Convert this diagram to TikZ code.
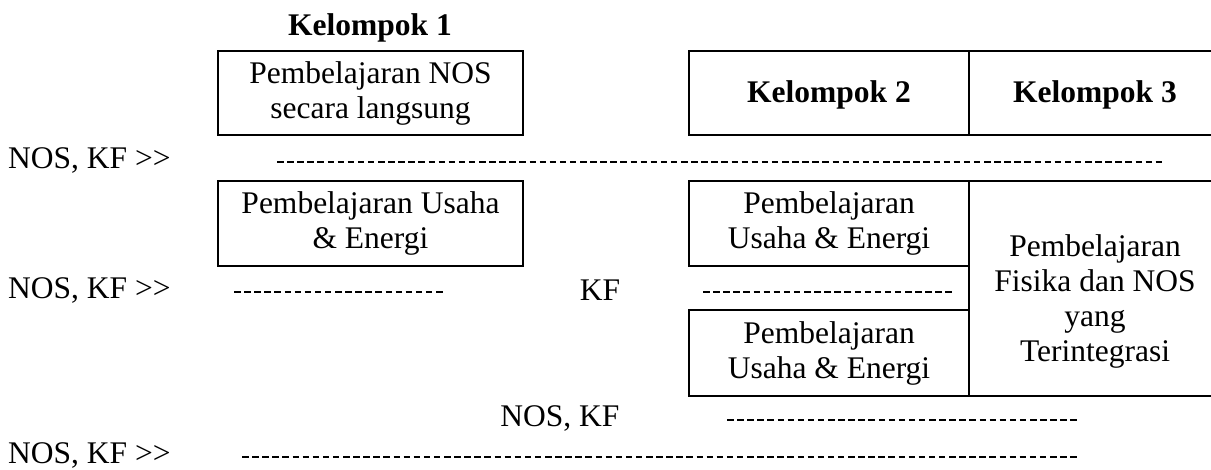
\documentclass[tikz,border=0pt]{standalone}
\usepackage{fontspec}
\setmainfont{Liberation Serif}
\begin{document}
\begin{tikzpicture}[x=1pt,y=-1pt,
  txt/.style={inner sep=0pt,align=center,font=\fontsize{31.5}{35}\selectfont},
  bold/.style={txt,font=\fontsize{31.5}{35}\selectfont\bfseries},
  boxline/.style={draw=black,line width=1.6pt},
  dline/.style={draw=black,line width=1.7pt,dash pattern=on 6.5pt off 3.6pt}]
\useasboundingbox (0,0) rectangle (1211,470);
% boxes
\node[boxline,minimum width=305pt,minimum height=84pt,inner sep=0pt] (b1) at (370.5,93) {};
\node[txt] (b1t) at (b1.center) {Pembelajaran NOS\\secara langsung};
\node[boxline,minimum width=305pt,minimum height=85pt,inner sep=0pt] (b2) at (370.5,223.5) {};
\node[txt] (b2t) at (b2.center) {Pembelajaran Usaha\\\& Energi};
\node[boxline,minimum width=280pt,minimum height=85pt,inner sep=0pt] (k2a) at (829,223.5) {};
\node[txt] (k2at) at (k2a.center) {Pembelajaran\\Usaha \& Energi};
\node[boxline,minimum width=280pt,minimum height=86pt,inner sep=0pt] (k2b) at (829,353) {};
\node[txt] (k2bt) at (k2b.center) {Pembelajaran\\Usaha \& Energi};
% header table
\coordinate (h1) at (689,51);
\coordinate (h2) at (1215,51);
\coordinate (h3) at (1215,135);
\coordinate (h4) at (689,135);
\coordinate (hd1) at (969,51);
\coordinate (hd2) at (969,135);
\draw[boxline] (h2) -- (h1) -- (h4) -- (h3);
\draw[boxline] (hd1) -- (hd2);
\node[bold] (k2) at (829,95) {Kelompok 2};
\node[bold] (k3) at (1095,95) {Kelompok 3};
% right box
\coordinate (r1) at (1215,181);
\coordinate (r2) at (969,181);
\coordinate (r3) at (969,396);
\coordinate (r4) at (1215,396);
\draw[boxline] (r1) -- (r2) -- (r3) -- (r4);
\node[txt] (rt) at (1095,301) {Pembelajaran\\Fisika dan NOS\\yang\\Terintegrasi};
% labels
\node[bold] (k1) at (370,28) {Kelompok 1};
\node[txt,anchor=west] (l1) at (8,160) {NOS, KF >{}>};
\node[txt,anchor=west] (l2) at (8,290) {NOS, KF >{}>};
\node[txt,anchor=west] (l3) at (8,455) {NOS, KF >{}>};
\node[txt] (kf) at (600,290) {KF};
\node[txt] (nk) at (560,418) {NOS, KF};
% dashed lines
\coordinate (d1a) at (277,162); \coordinate (d1b) at (1162.2,162);
\coordinate (d2a) at (234,292); \coordinate (d2b) at (442.5,292);
\coordinate (d3a) at (703,292); \coordinate (d3b) at (951.9,292);
\coordinate (d4a) at (727,420); \coordinate (d4b) at (1076.9,420);
\coordinate (d5a) at (242,457); \coordinate (d5b) at (1076.7,457);
\draw[dline] (d1a) -- (d1b);
\draw[dline] (d2a) -- (d2b);
\draw[dline] (d3a) -- (d3b);
\draw[dline] (d4a) -- (d4b);
\draw[dline] (d5a) -- (d5b);
\end{tikzpicture}
\end{document}
